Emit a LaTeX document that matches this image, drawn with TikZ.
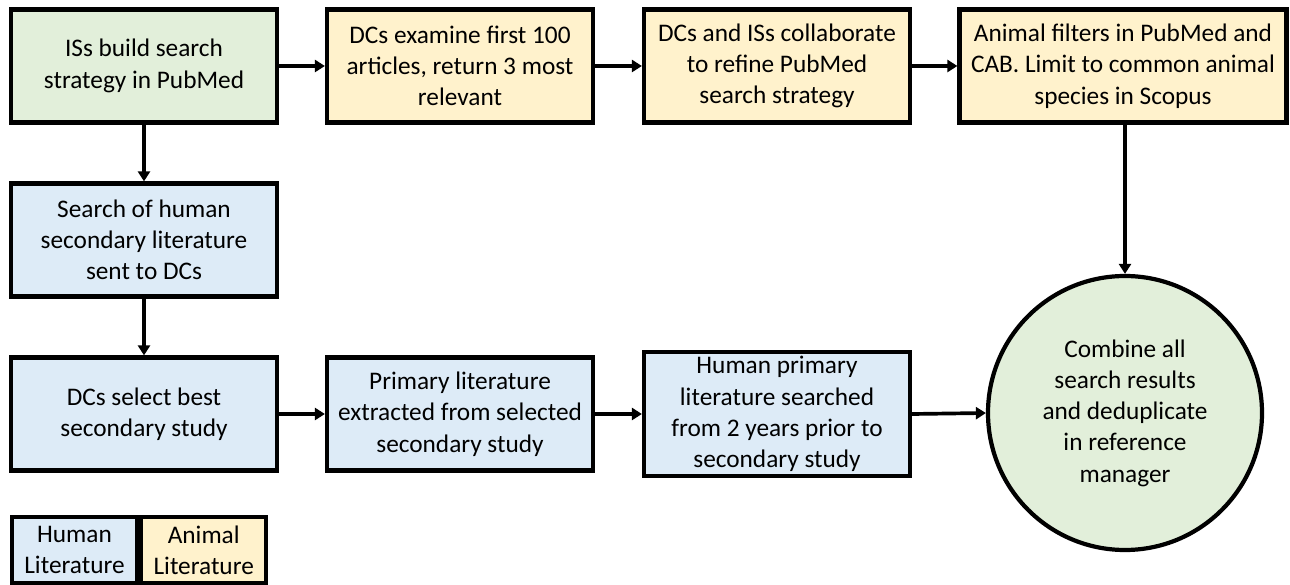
\documentclass[tikz,border=0pt]{standalone}
\usepackage{fontspec}
\setmainfont{Carlito}
\usepackage{tikz}
\usepackage{xcolor}
\usetikzlibrary{positioning, arrows.meta, calc, shapes.geometric}
\definecolor{startgreen}{HTML}{E2EFDA}
\definecolor{animalyellow}{HTML}{FFF2CC}
\definecolor{humanblue}{HTML}{DDEBF7}

\begin{document}
\begin{tikzpicture}[
    font=\fontsize{14.4}{17.8}\selectfont,
    stepbox/.style={draw, line width=2.4pt, align=center, inner sep=2pt,
      minimum width=5.32cm, minimum height=2.26cm},
    flow/.style={line width=2.1pt, -{Triangle[length=0.2cm, width=0.24cm]}}
  ]
    \useasboundingbox (0,0) rectangle (25.8,-11.7);

    % top row
    \node[stepbox, fill=startgreen] (isbuild) at (2.88,-1.32)
      {ISs build search\\strategy in PubMed};
    \node[stepbox, fill=animalyellow] (dcexam) at (9.2,-1.32)
      {DCs examine first 100\\articles, return 3 most\\relevant};
    \node[stepbox, fill=animalyellow] (refine) at (15.54,-1.32)
      {DCs and ISs collaborate\\to refine PubMed\\search strategy};
    \node[stepbox, fill=animalyellow, minimum width=6.54cm] (filters) at (22.46,-1.32)
      {Animal filters in PubMed and\\CAB. Limit to common animal\\species in Scopus};

    % human branch
    \node[stepbox, fill=humanblue] (secsearch) at (2.88,-4.8)
      {Search of human\\secondary literature\\sent to DCs};
    \node[stepbox, fill=humanblue] (bestsec) at (2.88,-8.28)
      {DCs select best\\secondary study};
    \node[stepbox, fill=humanblue] (primext) at (9.2,-8.28)
      {Primary literature\\extracted from selected\\secondary study};
    \node[stepbox, fill=humanblue, minimum height=2.48cm] (primsearch) at (15.54,-8.28)
      {Human primary\\literature searched\\from 2 years prior to\\secondary study};

    \node[circle, draw, line width=2.4pt, fill=startgreen, align=center,
      minimum size=5.48cm, inner sep=0pt] (combine) at (22.5,-8.26)
      {Combine all\\search results\\and deduplicate\\in reference\\manager};

    % legend
    \node[draw, line width=2.4pt, fill=humanblue, align=center,
      minimum width=2.5cm, minimum height=1.32cm, inner sep=1pt] (keyhuman) at (1.49,-11.0)
      {Human\\Literature};
    \node[draw, line width=2.4pt, fill=animalyellow, align=center,
      minimum width=2.5cm, minimum height=1.32cm, inner sep=1pt, right=0pt of keyhuman] (keyanimal)
      {Animal\\Literature};

    \foreach \a/\b in {isbuild/dcexam, dcexam/refine, refine/filters,
        bestsec/primext, primext/primsearch, primsearch/combine} {
      \draw[flow] (\a.east) -- (\b.west);
    }
    \draw[flow] (isbuild) -- (secsearch);
    \draw[flow] (secsearch) -- (bestsec);
    \draw[flow] (combine.north |- filters.south) -- (combine.north);
  \end{tikzpicture}
\end{document}
